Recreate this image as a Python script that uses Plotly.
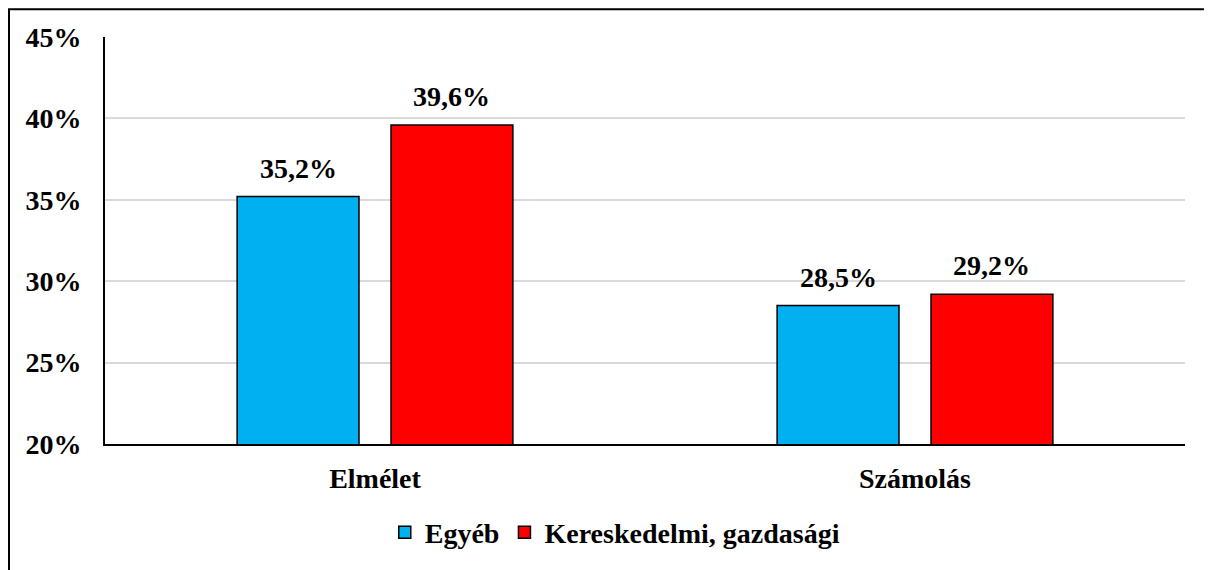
import plotly.graph_objects as go

categories = ["Elmélet", "Számolás"]
series_names = ["Egyéb", "Kereskedelmi, gazdasági"]
egyeb = [0.352, 0.285]
keresk = [0.396, 0.292]
colors = ["#00B0F0", "#FF0000"]
ytickvals = [0.20, 0.25, 0.30, 0.35, 0.40, 0.45]

FONT = "Liberation Serif, Times New Roman, serif"
FS = 28

W, H = 1204, 562
L, R, T, B = 97, 27, 29, 124
BARGAP = 0.43
plot_w = W - L - R
slot_px = plot_w / len(categories) * (1 - BARGAP) / 2


def lab(v):
    return f"{v*100:.1f}%".replace(".", ",")


fig = go.Figure()
for name, vals, col in zip(series_names, [egyeb, keresk], colors):
    fig.add_trace(go.Bar(
        x=categories, y=vals, name=name,
        marker=dict(color=col, line=dict(color="black", width=1.5)),
        cliponaxis=False,
    ))

annotations = []
for i, vals in enumerate([egyeb, keresk]):
    shift = (i - 0.5) * slot_px
    for c, v in zip(categories, vals):
        annotations.append(dict(
            x=c, y=v, xref="x", yref="y", text=lab(v), showarrow=False,
            xshift=shift, yshift=11, yanchor="bottom", xanchor="center",
            font=dict(family=FONT, size=FS, color="black", weight="bold"),
        ))

fig.update_layout(
    width=W, height=H,
    margin=dict(l=L, r=R, t=T, b=B),
    paper_bgcolor="white", plot_bgcolor="white",
    barmode="group", bargap=BARGAP, bargroupgap=0.208,
    font=dict(family=FONT, size=FS, color="black", weight="bold"),
    showlegend=True,
    legend=dict(orientation="h", x=0.472, xanchor="center", y=-0.2176, yanchor="middle",
                font=dict(family=FONT, size=FS, color="black", weight="bold"),
                itemwidth=30, tracegroupgap=0),
    yaxis=dict(range=[0.20, 0.45], tickvals=ytickvals, tickformat=".0%",
               showgrid=True, gridcolor="#D9D9D9", gridwidth=1.5,
               showline=True, linecolor="black", linewidth=2,
               ticks="", ticklabelstandoff=16,
               tickfont=dict(family=FONT, size=FS, color="black", weight="bold"),
               zeroline=False),
    xaxis=dict(showline=True, linecolor="black", linewidth=2, ticks="",
               ticklabelstandoff=8,
               tickfont=dict(family=FONT, size=FS, color="black", weight="bold")),
    annotations=annotations,
    shapes=[dict(type="rect", xref="paper", yref="paper",
                 x0=(1 - L) / plot_w, x1=1.06, y0=-0.4, y1=(H - B - 1) / (H - B - T),
                 line=dict(color="black", width=2), fillcolor="rgba(0,0,0,0)",
                 layer="above")],
)

fig.write_html("out.html")
